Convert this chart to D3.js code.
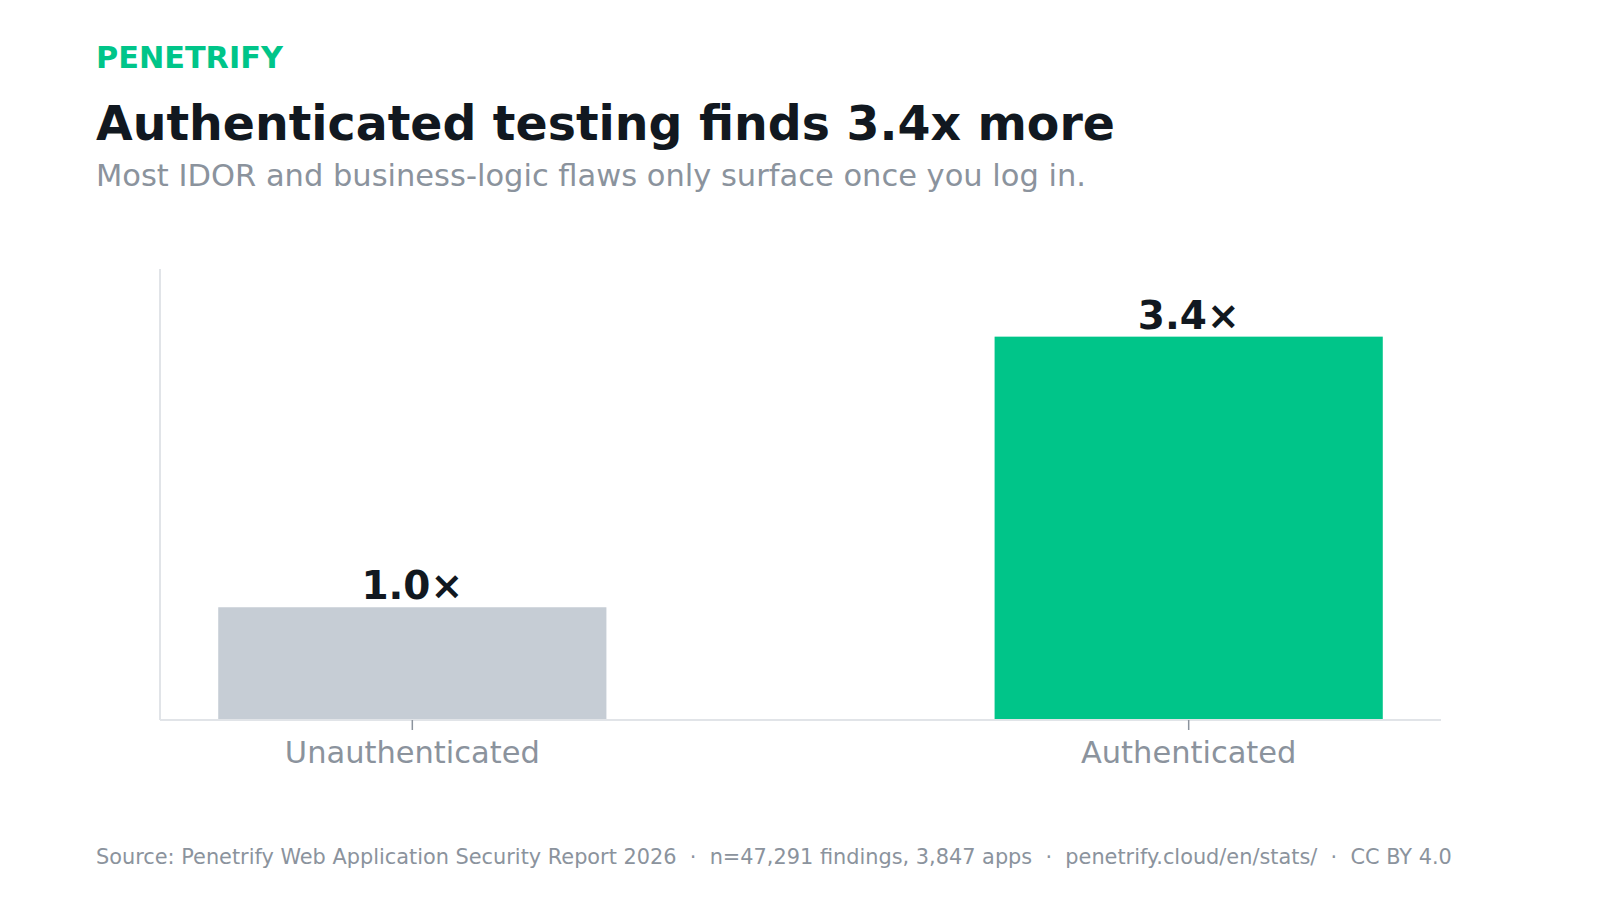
<!DOCTYPE html>
<html>
<head>
<meta charset="utf-8">
<script src="https://cdn.jsdelivr.net/npm/d3@7"></script>
<style>
  html, body { margin: 0; padding: 0; background: #fff; }
  svg { display: block; font-family: "DejaVu Sans", sans-serif; }
</style>
</head>
<body>
<svg id="chart" width="1600" height="900"></svg>
<script>
const categories = ["Unauthenticated", "Authenticated"];
const multipliers = [1.0, 3.4];
const valueLabels = ["1.0×", "3.4×"];
const barColors = ["#c6cdd5", "#00c589"];
const yMax = 4.0;

const svg = d3.select("#chart");

const margin = { top: 269, right: 159, bottom: 180, left: 160 };
const width = 1600 - margin.left - margin.right;
const height = 900 - margin.top - margin.bottom;

// Header
svg.append("text")
  .attr("x", 96)
  .attr("y", 68)
  .style("font-size", "30.3px")
  .style("font-weight", "bold")
  .style("fill", "#00c589")
  .text("PENETRIFY");

svg.append("text")
  .attr("x", 96)
  .attr("y", 140)
  .style("font-size", "47.4px")
  .style("font-weight", "bold")
  .style("fill", "#111820")
  .text("Authenticated testing finds 3.4x more");

svg.append("text")
  .attr("x", 96)
  .attr("y", 186)
  .style("font-size", "30.5px")
  .style("fill", "#8b939d")
  .text("Most IDOR and business-logic flaws only surface once you log in.");

const g = svg.append("g")
  .attr("transform", `translate(${margin.left},${margin.top})`);

const x = d3.scaleBand()
  .domain(categories)
  .range([0, width])
  .paddingInner(0.5)
  .paddingOuter(0.075);

const y = d3.scaleLinear()
  .domain([0, yMax])
  .range([height, 0]);

const data = categories.map((c, i) => ({ cat: c, value: multipliers[i], label: valueLabels[i], color: barColors[i] }));

g.selectAll("rect.bar")
  .data(data)
  .enter()
  .append("rect")
  .attr("class", "bar")
  .attr("x", d => x(d.cat))
  .attr("y", d => y(d.value))
  .attr("width", x.bandwidth())
  .attr("height", d => height - y(d.value))
  .attr("fill", d => d.color);

g.selectAll("text.val")
  .data(data)
  .enter()
  .append("text")
  .attr("class", "val")
  .attr("x", d => x(d.cat) + x.bandwidth() / 2)
  .attr("y", d => y(d.value) - 8)
  .attr("text-anchor", "middle")
  .style("font-size", "39px")
  .style("font-weight", "bold")
  .style("fill", "#111820")
  .text(d => d.label);

// Axes
g.append("line")
  .attr("x1", 0).attr("x2", 0)
  .attr("y1", 0).attr("y2", height)
  .attr("stroke", "#e1e4e8")
  .attr("stroke-width", 2);

const xAxis = g.append("g")
  .attr("transform", `translate(0,${height})`)
  .call(d3.axisBottom(x).tickSize(10).tickPadding(11));

xAxis.select(".domain")
  .attr("d", `M0,0H${width}`)
  .attr("stroke", "#e1e4e8")
  .attr("stroke-width", 2);

xAxis.selectAll(".tick line")
  .attr("stroke", "#8b939d")
  .attr("stroke-width", 1.5);

xAxis.selectAll(".tick text")
  .attr("dy", "0.71em")
  .style("font-family", "DejaVu Sans, sans-serif")
  .style("font-size", "30.5px")
  .style("fill", "#8b939d");

// Footer
svg.append("text")
  .attr("x", 96)
  .attr("y", 864)
  .style("font-size", "20.85px")
  .style("fill", "#8b939d")
  .attr("xml:space", "preserve")
  .text("Source: Penetrify Web Application Security Report 2026  ·  n=47,291 findings, 3,847 apps  ·  penetrify.cloud/en/stats/  ·  CC BY 4.0");
</script>
</body>
</html>
